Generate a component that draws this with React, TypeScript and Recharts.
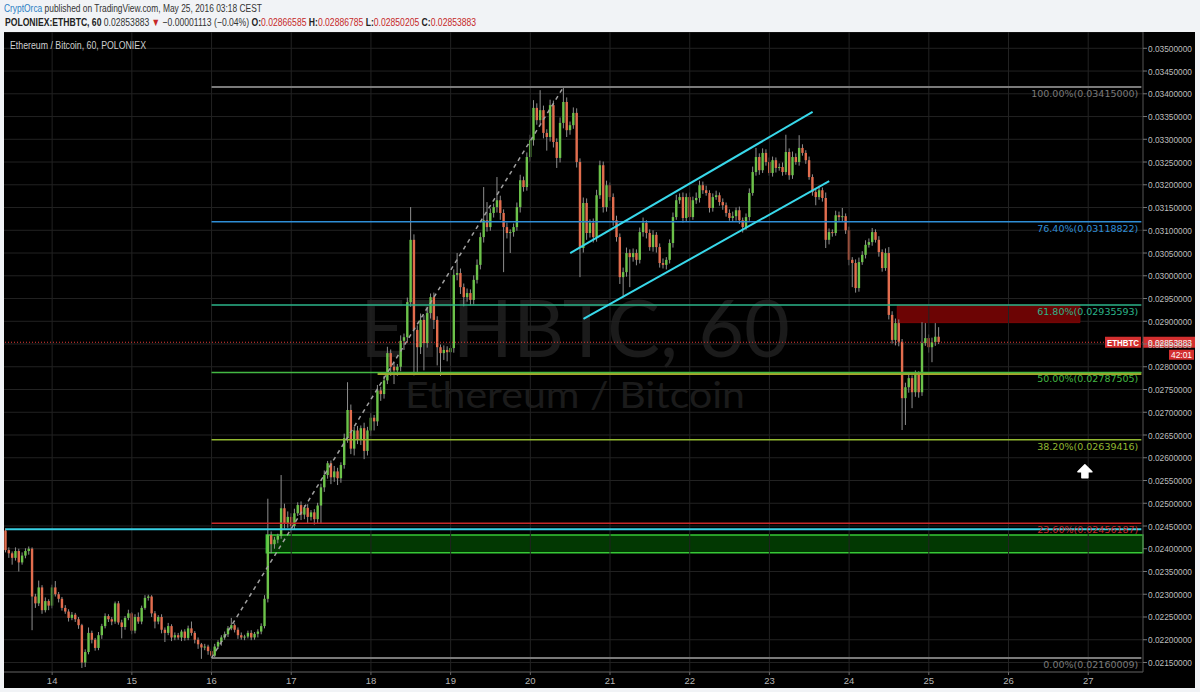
import React from 'react';
import {
  ComposedChart,
  Bar,
  XAxis,
  YAxis,
  CartesianGrid,
  ReferenceLine,
  ReferenceArea,
  ReferenceDot,
} from 'recharts';

// hourly candles, prices in 1e-5 BTC, first candle = 13 May 10:00
const FIRST_OPEN = 2440;
const START_HOUR = 10;
const SLOTS = 343;

const closes = [
  2397, 2390, 2380, 2395, 2370, 2385, 2395, 2400, 2295, 2280,
  2315, 2265, 2285, 2275, 2315, 2300, 2290, 2270, 2262, 2248,
  2255, 2245, 2232, 2150, 2173, 2215, 2200, 2182, 2210, 2230,
  2252, 2245, 2240, 2280, 2238, 2228, 2248, 2258, 2220, 2250,
  2240, 2270, 2292, 2295, 2258, 2240, 2250, 2222, 2215, 2230,
  2205, 2210, 2205, 2218, 2204, 2225, 2215, 2200, 2190, 2183,
  2185, 2175, 2165, 2185, 2195, 2205, 2212, 2225, 2232, 2222,
  2210, 2205, 2207, 2215, 2205, 2213, 2218, 2230, 2290, 2430,
  2410, 2420, 2428, 2489, 2456, 2470, 2450, 2478, 2496, 2475,
  2490, 2470, 2480, 2465, 2495, 2535, 2562, 2588, 2557, 2570,
  2555, 2584, 2643, 2705, 2620, 2660, 2640, 2665, 2615, 2660,
  2688, 2680, 2748, 2740, 2770, 2830, 2800, 2792, 2800, 2857,
  2865, 2942, 3079, 2881, 2843, 2903, 2852, 2918, 2953, 2903,
  2843, 2830, 2837, 2832, 2841, 3002, 3006, 2975, 2953, 2962,
  2947, 2991, 3024, 3085, 3122, 3107, 3138, 3151, 3166, 3138,
  3107, 3094, 3096, 3107, 3151, 3210, 3195, 3261, 3298, 3369,
  3342, 3364, 3314, 3305, 3375, 3294, 3259, 3336, 3382, 3320,
  3331, 3358, 3250, 3061, 3160, 3094, 3116, 3085, 3177, 3243,
  3151, 3199, 3173, 3122, 3085, 2997, 3008, 3050, 3041, 3050,
  3035, 3096, 3116, 3094, 3063, 3090, 3063, 3028, 3024, 3035,
  3072, 3129, 3166, 3173, 3127, 3173, 3129, 3166, 3171, 3199,
  3188, 3182, 3149, 3173, 3177, 3162, 3155, 3138, 3127, 3131,
  3144, 3122, 3107, 3129, 3182, 3228, 3261, 3232, 3270, 3250,
  3226, 3254, 3237, 3239, 3228, 3272, 3221, 3261, 3250, 3281,
  3270, 3254, 3217, 3184, 3173, 3188, 3171, 3079, 3096, 3094,
  3133, 3129, 3131, 3100, 3035, 3028, 2973, 3030, 3046, 3068,
  3074, 3096, 3079, 3052, 3017, 3050, 2914, 2859, 2896, 2855,
  2731, 2755, 2775, 2744, 2782, 2744, 2852, 2863, 2843, 2854,
  2866, 2854,
];

// wick length above max(open, close)
const upWicks = [
  5, 6, 4, 8, 5, 7, 6, 5, 3, 6,
  15, 5, 8, 4, 6, 14, 5, 4, 6, 5,
  6, 4, 5, 3, 6, 12, 5, 4, 7, 5,
  6, 4, 5, 4, 5, 6, 4, 8, 3, 6,
  10, 5, 6, 4, 3, 5, 4, 6, 5, 7,
  4, 6, 5, 4, 5, 6, 15, 4, 5, 3,
  6, 4, 5, 6, 4, 5, 6, 5, 16, 4,
  5, 6, 4, 5, 6, 4, 5, 6, 8, 80,
  8, 6, 5, 73, 10, 12, 8, 10, 6, 8,
  6, 8, 5, 7, 6, 8, 10, 5, 6, 12,
  8, 6, 10, 61, 12, 8, 10, 6, 12, 8,
  10, 6, 12, 8, 10, 14, 8, 10, 6, 12,
  8, 10, 72, 12, 10, 14, 10, 12, 8, 10,
  8, 6, 10, 8, 6, 12, 44, 10, 8, 10,
  8, 10, 12, 10, 73, 40, 10, 8, 51, 10,
  8, 10, 6, 8, 10, 12, 8, 10, 12, 17,
  10, 44, 10, 8, 12, 10, 8, 12, 33, 10,
  8, 12, 10, 8, 12, 10, 8, 10, 12, 10,
  8, 10, 6, 8, 10, 8, 10, 12, 8, 10,
  8, 10, 12, 6, 8, 10, 6, 8, 10, 6,
  8, 10, 12, 8, 10, 8, 10, 8, 12, 10,
  8, 10, 6, 8, 10, 6, 8, 6, 8, 10,
  6, 8, 6, 8, 10, 12, 20, 8, 10, 8,
  10, 8, 6, 8, 10, 38, 8, 12, 8, 28,
  8, 6, 8, 6, 8, 10, 6, 12, 8, 6,
  10, 8, 18, 6, 8, 6, 8, 10, 8, 10,
  8, 9, 6, 8, 6, 10, 13, 8, 10, 8,
  6, 10, 8, 6, 10, 8, 46, 33, 8, 10,
  30, 21,
];

// wick length below min(open, close)
const downWicks = [
  5, 10, 15, 6, 20, 5, 6, 8, 74, 10,
  6, 8, 5, 10, 6, 5, 8, 6, 5, 8,
  5, 6, 8, 12, 10, 5, 8, 6, 5, 8,
  5, 6, 8, 5, 5, 25, 6, 5, 8, 6,
  5, 6, 4, 6, 8, 15, 6, 8, 20, 5,
  8, 6, 5, 8, 6, 5, 6, 8, 10, 25,
  6, 8, 5, 6, 5, 8, 5, 6, 4, 6,
  8, 5, 6, 4, 6, 5, 8, 6, 5, 8,
  20, 10, 8, 6, 12, 10, 15, 8, 6, 12,
  10, 15, 8, 12, 10, 39, 10, 8, 15, 10,
  15, 10, 8, 10, 12, 15, 10, 12, 18, 10,
  12, 20, 10, 15, 10, 8, 20, 30, 12, 10,
  20, 12, 10, 100, 60, 15, 60, 10, 12, 20,
  40, 50, 15, 20, 30, 10, 12, 15, 20, 10,
  12, 10, 8, 10, 12, 10, 8, 10, 12, 15,
  99, 12, 44, 10, 8, 12, 10, 8, 10, 12,
  10, 8, 12, 30, 10, 12, 22, 10, 12, 15,
  10, 8, 12, 64, 10, 15, 10, 12, 10, 8,
  12, 10, 8, 12, 10, 15, 44, 10, 66, 10,
  12, 8, 10, 12, 8, 10, 12, 10, 8, 10,
  8, 10, 6, 8, 10, 8, 10, 6, 8, 10,
  8, 6, 10, 8, 6, 8, 10, 8, 6, 8,
  10, 8, 12, 6, 8, 6, 8, 10, 6, 8,
  6, 8, 10, 6, 8, 6, 10, 8, 6, 8,
  6, 8, 6, 8, 18, 6, 8, 18, 10, 8,
  6, 8, 10, 8, 12, 53, 10, 8, 6, 8,
  6, 8, 6, 10, 8, 6, 10, 8, 12, 10,
  70, 59, 12, 35, 10, 12, 8, 6, 12, 33,
  8, 4,
];

const days = [14, 15, 16, 17, 18, 19, 20, 21, 22, 23, 24, 25, 26, 27];

const priceTicks = [
  0.0215, 0.022, 0.0225, 0.023, 0.0235, 0.024, 0.0245, 0.025, 0.0255, 0.026,
  0.0265, 0.027, 0.0275, 0.028, 0.0285, 0.029, 0.0295, 0.03, 0.0305, 0.031,
  0.0315, 0.032, 0.0325, 0.033, 0.0335, 0.034, 0.0345, 0.035,
];

// fibonacci retracement drawn from the 16 May low to the 20 May high
const fibPct = ['100.00%', '76.40%', '61.80%', '50.00%', '38.20%', '23.60%', '0.00%'];
const fibValues = [0.03415, 0.03118822, 0.02935593, 0.02787505, 0.02639416, 0.02456187, 0.02160009];
const fibColors = ['#7a7a7a', '#2f8ed6', '#2bb58a', '#43b843', '#92b830', '#c62828', '#7a7a7a'];
const FIB_START = 62;
const FIB_TOP = 168;

const LAST = 0.02853883;

const UP = '#6cc24a';
const DOWN = '#e26d4e';
const WICK = '#8e8e8e';
const GRID = '#222';
const SANS = "'Liberation Sans', Arial, sans-serif";
const RED = '#c62828';
const INK = '#333';

// header text pieces: [text, bold, colour]
type Piece = [string, boolean, string];
const headerLine1: Piece[] = [
  ['CryptOrca', false, '#2a80c4'],
  [' published on TradingView.com, May 25, 2016 03:18 CEST', false, INK],
];
const headerLine2: Piece[] = [
  ['POLONIEX:ETHBTC, 60', true, '#222'],
  [' 0.02853883 ', false, INK],
  ['▼', false, RED],
  [' −0.00001113 (−0.04%) ', false, INK],
  ['O:', true, '#222'],
  ['0.02866585', false, RED],
  [' H:', true, '#222'],
  ['0.02886785', false, RED],
  [' L:', true, '#222'],
  ['0.02850205', false, RED],
  [' C:', true, '#222'],
  ['0.02853883', false, RED],
];

type Row = {
  i: number;
  open?: number;
  close?: number;
  high?: number;
  low?: number;
  range?: [number, number];
};

const rows: Row[] = [];
for (let i = 0; i < SLOTS; i++) {
  if (i < closes.length) {
    const o = i === 0 ? FIRST_OPEN : closes[i - 1];
    const c = closes[i];
    const hi = Math.max(o, c) + upWicks[i];
    const lo = Math.min(o, c) - downWicks[i];
    rows.push({ i, open: o / 1e5, close: c / 1e5, high: hi / 1e5, low: lo / 1e5, range: [lo / 1e5, hi / 1e5] });
  } else {
    rows.push({ i });
  }
}

const dayIndex = (d: number) => (d - 13) * 24 - START_HOUR;
const dayAt = new Map(days.map((d) => [dayIndex(d), d]));

const measure = (pieces: Piece[], size: number) => {
  const ctx = document.createElement('canvas').getContext('2d');
  if (!ctx) return 0;
  let w = 0;
  for (const [t, bold] of pieces) {
    ctx.font = `${bold ? 'bold ' : ''}${size}px 'Liberation Sans', Arial, sans-serif`;
    w += ctx.measureText(t).width;
  }
  return w;
};

const Candle = (props: any) => {
  const { x, y, width, height, payload } = props;
  if (!payload || payload.open === undefined) return null;
  const { open, close, high, low } = payload;
  const top0 = Math.min(y, y + height);
  const h = Math.abs(height);
  const toY = (v: number) => top0 + ((high - v) / (high - low)) * h;
  const cx = x + width / 2;
  const bodyTop = toY(Math.max(open, close));
  const bodyBot = toY(Math.min(open, close));
  return (
    <g>
      <line x1={cx} x2={cx} y1={top0} y2={top0 + h} stroke={WICK} strokeWidth={1} />
      <rect
        x={cx - 1.2}
        y={bodyTop}
        width={2.4}
        height={Math.max(1, bodyBot - bodyTop)}
        fill={close >= open ? UP : DOWN}
      />
    </g>
  );
};

const DayTick = (props: any) => {
  const { x, y, payload } = props;
  const d = dayAt.get(payload.value);
  if (d === undefined) return null;
  return (
    <g>
      <line x1={x} x2={x} y1={y} y2={y + 3} stroke="#666" />
      <text x={x} y={y + 12} textAnchor="middle" fill="#b5b5b5" fontSize={9.5} fontFamily={SANS}>
        {d}
      </text>
    </g>
  );
};

const PriceTick = (props: any) => {
  const { x, y, payload } = props;
  return (
    <text
      x={x}
      y={y + 3.5}
      fill="#bdbdbd"
      fontSize={9}
      fontFamily={SANS}
      textLength={44}
      lengthAdjust="spacingAndGlyphs"
    >
      {Number(payload.value).toFixed(8)}
    </text>
  );
};

const boxOf = (vb: any) => {
  if (!vb) return null;
  if (vb.x1 !== undefined) {
    return { left: Math.min(vb.x1, vb.x2), right: Math.max(vb.x1, vb.x2), y: vb.y1 };
  }
  return { left: vb.x, right: vb.x + vb.width, y: vb.y };
};

const FibLabel = (props: any) => {
  const b = boxOf(props.viewBox);
  if (!b) return null;
  return (
    <text
      x={b.right - 3}
      y={b.y + 10}
      textAnchor="end"
      fill={props.color}
      fontSize={9.5}
      fontFamily="'DejaVu Sans', sans-serif"
    >
      {props.text}
    </text>
  );
};

const PriceTag = (props: any) => {
  const b = boxOf(props.viewBox);
  if (!b) return null;
  const r = b.right;
  const y = b.y;
  return (
    <g fontFamily={SANS} fontSize={9}>
      <rect x={r - 38} y={y - 5.5} width={36} height={11} fill="#d32f2f" />
      <text x={r - 36} y={y + 3.5} fill="#fff" fontWeight="bold" textLength={32} lengthAdjust="spacingAndGlyphs">
        ETHBTC
      </text>
      <rect x={r} y={y - 5.5} width={52} height={11} fill="#d32f2f" />
      <text x={r + 5} y={y + 3.5} fill="#fff" textLength={44} lengthAdjust="spacingAndGlyphs">
        {LAST.toFixed(8)}
      </text>
      <rect x={r + 26} y={y + 7.5} width={25} height={10} fill="#d32f2f" />
      <text x={r + 28} y={y + 16} fill="#fff" textLength={21} lengthAdjust="spacingAndGlyphs">
        42:01
      </text>
    </g>
  );
};

const UpArrow = (props: any) => {
  const { cx, cy } = props;
  if (cx === undefined) return null;
  return (
    <path
      d={`M${cx} ${cy - 7} L${cx + 7} ${cy} L${cx + 3} ${cy} L${cx + 3} ${cy + 6} L${cx - 3} ${cy + 6} L${cx - 3} ${cy} L${cx - 7} ${cy} Z`}
      fill="#fff"
      stroke="#fff"
      strokeLinejoin="round"
      strokeWidth={1.5}
    />
  );
};

const HeaderLine = ({ pieces, width, top, left }: { pieces: Piece[]; width: number; top: number; left: number }) => {
  const size = 11;
  const natural = measure(pieces, size) || width;
  return (
    <div
      style={{
        position: 'absolute',
        left,
        top,
        fontFamily: SANS,
        fontSize: size,
        lineHeight: '13px',
        whiteSpace: 'pre',
        transform: `scaleX(${width / natural})`,
        transformOrigin: 'left top',
      }}
    >
      {pieces.map(([t, bold, color], k) => (
        <span key={k} style={{ color, fontWeight: bold ? 'bold' : 'normal' }}>
          {t}
        </span>
      ))}
    </div>
  );
};

export default function App() {
  return (
    <div
      style={{
        position: 'absolute',
        left: 0,
        top: 0,
        width: 1200,
        height: 692,
        background: '#f1f3f6',
        overflow: 'hidden',
      }}
    >
      <HeaderLine pieces={headerLine1} width={258} top={2} left={4} />
      <HeaderLine pieces={headerLine2} width={471} top={16} left={5} />
      <div style={{ position: 'absolute', left: 4, top: 32, width: 1191, height: 656, background: '#000' }}>
        {/* watermark */}
        <svg width={1139} height={640} style={{ position: 'absolute', left: 0, top: 0 }}>
          <text
            x={571}
            y={325}
            textAnchor="middle"
            fontSize={79}
            fontFamily="Lato, sans-serif"
            fill="#1b1b1b"
            textLength={430}
            lengthAdjust="spacingAndGlyphs"
          >
            ETHBTC, 60
          </text>
          <text
            x={571}
            y={376}
            textAnchor="middle"
            fontSize={37}
            fontFamily="Lato, sans-serif"
            fill="#1b1b1b"
            textLength={340}
            lengthAdjust="spacingAndGlyphs"
          >
            Ethereum / Bitcoin
          </text>
        </svg>
        <div style={{ position: 'absolute', left: 0, top: 0 }}>
          <ComposedChart
            width={1191}
            height={656}
            data={rows}
            margin={{ top: 0, right: 0, bottom: 0, left: 0 }}
            barCategoryGap={0}
            barGap={0}
          >
            <CartesianGrid vertical={false} stroke={GRID} />
            {days.map((d) => (
              <ReferenceLine key={`d${d}`} x={dayIndex(d)} stroke={GRID} />
            ))}
            <XAxis
              dataKey="i"
              type="category"
              interval={0}
              height={16}
              tickSize={0}
              tickMargin={0}
              tickLine={false}
              axisLine={{ stroke: '#555' }}
              tick={<DayTick />}
            />
            <YAxis
              orientation="right"
              width={52}
              domain={[0.021291, 0.035358]}
              allowDataOverflow
              ticks={priceTicks}
              interval={0}
              tick={<PriceTick />}
              tickSize={4}
              tickMargin={1}
              tickLine={{ stroke: '#777' }}
              axisLine={{ stroke: '#555' }}
            />

            {/* support zone and resistance box */}
            <ReferenceArea
              x1={79}
              x2={SLOTS - 1}
              y1={0.02391}
              y2={0.0243}
              fill="#023802"
              fillOpacity={1}
              stroke="#36c936"
              strokeWidth={1.5}
            />
            <ReferenceArea
              x1={269}
              x2={323}
              y1={0.02897}
              y2={0.02935}
              fill="#720404"
              fillOpacity={0.95}
              stroke="#7a0606"
            />

            <Bar dataKey="range" shape={<Candle />} isAnimationActive={false} />

            {/* horizontal drawings */}
            <ReferenceLine
              segment={[{ x: 0, y: 0.02443 }, { x: SLOTS - 1, y: 0.02443 }]}
              stroke="#38d0e4"
              strokeWidth={2}
            />
            <ReferenceLine
              segment={[{ x: 112, y: 0.02785 }, { x: SLOTS - 1, y: 0.02785 }]}
              stroke="#a6a62a"
              strokeWidth={3}
            />

            {fibValues.map((v, k) => (
              <ReferenceLine
                key={`f${k}`}
                segment={[{ x: FIB_START, y: v }, { x: SLOTS - 1, y: v }]}
                stroke={fibColors[k]}
                strokeWidth={k === 0 || k === 6 ? 2 : 1.5}
                label={<FibLabel text={`${fibPct[k]}(${v.toFixed(8)})`} color={fibColors[k]} />}
              />
            ))}

            {/* fib trend line */}
            <ReferenceLine
              segment={[{ x: FIB_START, y: fibValues[6] }, { x: FIB_TOP, y: fibValues[0] }]}
              stroke="#a0a0a0"
              strokeDasharray="4 4"
              strokeWidth={1.5}
            />

            {/* rising channel */}
            <ReferenceLine
              segment={[{ x: 170, y: 0.0305 }, { x: 243, y: 0.0336 }]}
              stroke="#38d8ea"
              strokeWidth={2}
            />
            <ReferenceLine
              segment={[{ x: 174, y: 0.02905 }, { x: 248, y: 0.03208 }]}
              stroke="#38d8ea"
              strokeWidth={2}
            />

            {/* last price */}
            <ReferenceLine y={LAST} stroke="#e53935" strokeDasharray="1 2" label={<PriceTag />} />

            <ReferenceDot x={325} y={0.02569} r={0} shape={<UpArrow />} />
          </ComposedChart>
        </div>
        <svg width={200} height={24} style={{ position: 'absolute', left: 0, top: 0 }}>
          <text x={6} y={17} fontSize={10.5} fontFamily={SANS} fill="#cfcfcf" textLength={136} lengthAdjust="spacingAndGlyphs">
            Ethereum / Bitcoin, 60, POLONIEX
          </text>
        </svg>
      </div>
    </div>
  );
}
